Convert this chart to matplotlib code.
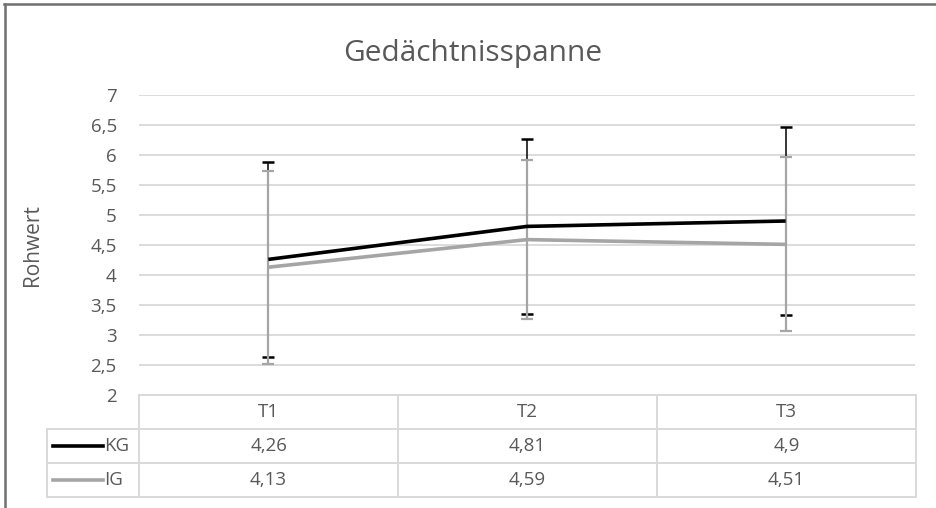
import matplotlib
matplotlib.use("Agg")
import matplotlib.pyplot as plt
from matplotlib.lines import Line2D

# ---- data ----
categories = ["T1", "T2", "T3"]
series_names = ["KG", "IG"]
kg_values = [4.26, 4.81, 4.9]
ig_values = [4.13, 4.59, 4.51]
kg_sd = [1.62, 1.46, 1.57]
ig_sd = [1.61, 1.33, 1.45]
y_ticks = [2, 2.5, 3, 3.5, 4, 4.5, 5, 5.5, 6, 6.5, 7]
title = "Gedächtnisspanne"
y_label = "Rohwert"

# ---- style ----
plt.rcParams['font.family'] = ['Open Sans', 'DejaVu Sans']
TXT = "#595959"
GRID = "#D9D9D9"
KG_C = "#000000"
IG_C = "#A5A5A5"

W, H = 936, 508
fig = plt.figure(figsize=(W / 100, H / 100), dpi=100)

def fx(px):
    return px / W

def fy(py):
    return 1 - py / H

# plot axes: x 139..915, y 95..395
L, R, T, B = 139, 915, 95, 395
ax = fig.add_axes([fx(L), fy(B), fx(R - L), (B - T) / H])
x = list(range(len(categories)))
ax.set_xlim(-0.5, len(categories) - 0.5)
ax.set_ylim(2, 7)
ax.set_yticks(y_ticks)
ax.set_yticklabels([f"{v:g}".replace(".", ",") for v in y_ticks])
ax.set_xticks([])
for s in ax.spines.values():
    s.set_visible(False)
ax.tick_params(axis='y', length=0, pad=16, labelsize=13.5, labelcolor=TXT)
ax.yaxis.grid(True, color=GRID, lw=1.3)
ax.set_axisbelow(True)

ax.errorbar(x, kg_values, yerr=kg_sd, fmt='none', ecolor=KG_C, elinewidth=1.1,
            capsize=4, capthick=1.8, zorder=3)
ax.errorbar(x, ig_values, yerr=ig_sd, fmt='none', ecolor=IG_C, elinewidth=1.6,
            capsize=4, capthick=1.6, zorder=4)
ax.plot(x, ig_values, color=IG_C, lw=2.6, zorder=5, solid_capstyle='butt')
ax.plot(x, kg_values, color=KG_C, lw=2.6, zorder=6, solid_capstyle='butt')

ax.set_ylabel(y_label, fontsize=15, color=TXT)
ax.yaxis.set_label_coords((43 - L) / (R - L), 0.5)

# ---- data table ----
TL, TR, TT, TB = 47, 916, 395, 497
unit = (R - L) / len(categories)
left_units = (L - TL) / unit
axt = fig.add_axes([fx(TL), fy(TB), fx(TR - TL), (TB - TT) / H])
axt.set_xlim(-0.5 - left_units, len(categories) - 0.5)
axt.set_ylim(0, 3)
axt.axis('off')

lkw = dict(color=GRID, lw=1.4, clip_on=False, solid_capstyle='projecting')
x0 = -0.5 - left_units
xe = len(categories) - 0.5
axt.plot([-0.5, xe], [3, 3], **lkw)
axt.plot([x0, xe], [2, 2], **lkw)
axt.plot([x0, xe], [1, 1], **lkw)
axt.plot([x0, xe], [0, 0], **lkw)
axt.plot([x0, x0], [0, 2], **lkw)
for i in range(len(categories) + 1):
    axt.plot([i - 0.5, i - 0.5], [0, 3], **lkw)

fs = 13.5
for i, c in enumerate(categories):
    axt.text(i, 2.5, c, ha='center', va='center', fontsize=fs, color=TXT)

rows = [(series_names[0], kg_values, KG_C), (series_names[1], ig_values, IG_C)]
for r, (name, vals, col) in enumerate(rows):
    yc = 1.5 - r
    for i, v in enumerate(vals):
        axt.text(i, yc, f"{v:g}".replace(".", ","), ha='center', va='center',
                 fontsize=fs, color=TXT)
    lx0 = x0 + 6 / unit
    lx1 = x0 + 56 / unit
    axt.plot([lx0, lx1], [yc, yc], color=col, lw=2.6, clip_on=False)
    axt.text(x0 + 57 / unit, yc, name, ha='left', va='center', fontsize=fs, color=TXT)

# ---- title ----
fig.text(fx(473), fy(61), title, ha='center', va='baseline', fontsize=21.5,
         color=TXT)

# chart border (top and left visible)
fig.add_artist(Line2D([fx(4), fx(936)], [fy(4), fy(4)], color="#707070", lw=1.8))
fig.add_artist(Line2D([fx(5), fx(5)], [fy(4), fy(508)], color="#707070", lw=1.8))

fig.savefig("out.png", dpi=100, facecolor="white")
